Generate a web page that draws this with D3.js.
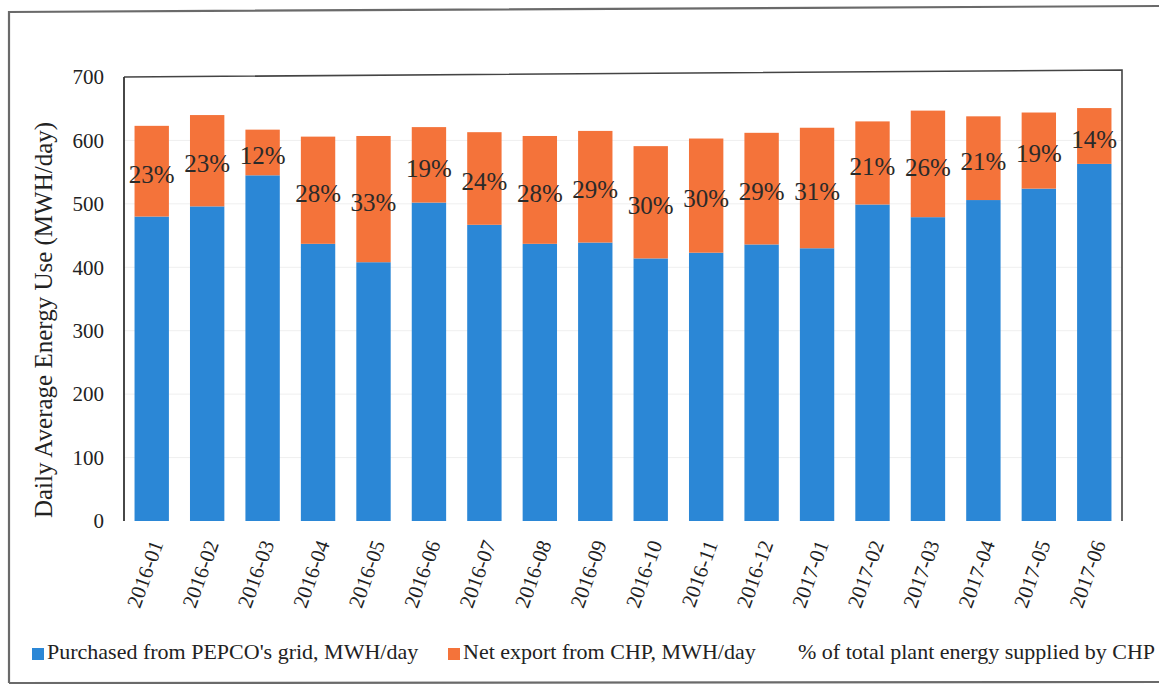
<!DOCTYPE html>
<html>
<head>
<meta charset="utf-8">
<script src="https://cdn.jsdelivr.net/npm/d3@7"></script>
<style>
  html, body { margin: 0; padding: 0; background: #fff; }
  svg { display: block; }
  svg text { font-family: "Liberation Serif", "Times New Roman", serif; }
</style>
</head>
<body>
<svg id="chart" width="1159" height="686"></svg>
<script>
// Monthly plant energy use, Jan 2016 – Jun 2017
const months = ["2016-01","2016-02","2016-03","2016-04","2016-05","2016-06",
                "2016-07","2016-08","2016-09","2016-10","2016-11","2016-12",
                "2017-01","2017-02","2017-03","2017-04","2017-05","2017-06"];
// Purchased from PEPCO's grid, MWH/day
const purchased = [480, 496, 545, 437, 408, 502, 467, 437, 439, 414, 423, 436, 430, 499, 479, 506, 524, 563];
// Net export from CHP, MWH/day
const netExport = [143, 144, 72, 169, 199, 119, 146, 170, 176, 177, 180, 176, 190, 131, 168, 132, 120, 88];
// % of total plant energy supplied by CHP
const chpShare = [23, 23, 12, 28, 33, 19, 24, 28, 29, 30, 30, 29, 31, 21, 26, 21, 19, 14];
const yTicks = [0, 100, 200, 300, 400, 500, 600, 700];

const seriesNames = ["Purchased from PEPCO's grid, MWH/day",
                     "Net export from CHP, MWH/day",
                     "% of total plant energy supplied by CHP"];
const colors = ["#2b87d6", "#f4733a", null];
const FONT = "'Liberation Serif', 'Times New Roman', serif";

const svg = d3.select("#chart");
const W = 1159, H = 686;
const plot = { left: 124, right: 1122, top: 77, bottom: 521 };

svg.append("rect").attr("width", W).attr("height", H).attr("fill", "#fff");

// outer frame
svg.append("path")
  .attr("d", `M9,683 L9,12 L${W},6 M9,683 L${W},682`)
  .attr("fill", "none").attr("stroke", "#6a6a6a").attr("stroke-width", 2.2);

const x = d3.scaleBand().domain(months).range([plot.left, plot.right])
  .paddingInner(0.38).paddingOuter(0.19);
const y = d3.scaleLinear().domain([0, 700]).range([plot.bottom, plot.top]);

// faint horizontal gridlines
svg.append("g").selectAll("line").data(yTicks.slice(1, -1)).join("line")
  .attr("x1", plot.left).attr("x2", plot.right)
  .attr("y1", d => y(d)).attr("y2", d => y(d))
  .attr("stroke", "#efefef").attr("stroke-width", 1);

// stacked bars
const rows = months.map((m, i) => ({ month: m, purchased: purchased[i], netExport: netExport[i], share: chpShare[i] }));
const stacked = d3.stack().keys(["purchased", "netExport"])(rows);

svg.append("g").selectAll("g").data(stacked).join("g")
  .attr("fill", (d, i) => colors[i])
  .selectAll("rect").data(d => d).join("rect")
  .attr("x", d => x(d.data.month))
  .attr("width", x.bandwidth())
  .attr("y", d => y(d[1]))
  .attr("height", d => y(d[0]) - y(d[1]));

// plot frame (top and right) and left axis line
svg.append("path")
  .attr("d", `M${plot.left},${plot.top} L${plot.right},${plot.top - 7} L${plot.right},${plot.bottom}`)
  .attr("fill", "none").attr("stroke", "#444").attr("stroke-width", 1.6);
svg.append("line")
  .attr("x1", plot.left).attr("x2", plot.left)
  .attr("y1", plot.top).attr("y2", plot.bottom)
  .attr("stroke", "#333").attr("stroke-width", 1.8);

// y axis labels
const yAxis = d3.axisLeft(y).tickValues(yTicks).tickSize(0).tickPadding(20);
const gy = svg.append("g").attr("transform", `translate(${plot.left},0)`).call(yAxis)
  .attr("font-family", FONT).attr("font-size", 21);
gy.select(".domain").remove();
gy.selectAll("text").attr("font-size", 21).attr("fill", "#222").style("font-family", FONT);

// x axis labels, rotated
const xAxis = d3.axisBottom(x).tickSize(0).tickPadding(0);
const gx = svg.append("g").attr("transform", `translate(0,${plot.bottom})`).call(xAxis)
  .attr("font-family", FONT).attr("font-size", 21);
gx.select(".domain").remove();
gx.selectAll("text")
  .attr("font-size", 21).attr("fill", "#222").style("font-family", FONT)
  .attr("text-anchor", "end")
  .attr("y", 0).attr("dy", "0.35em")
  .attr("transform", "translate(5,20) rotate(-70)");

// percentage labels centred in the CHP segment
const chpLayer = stacked[1];
svg.append("g").selectAll("text").data(chpLayer).join("text")
  .attr("x", d => x(d.data.month) + x.bandwidth() / 2)
  .attr("y", d => (y(d[0]) + y(d[1])) / 2 + 3)
  .attr("dy", "0.35em")
  .attr("text-anchor", "middle")
  .attr("font-size", 25).attr("fill", "#2a2a2a").style("font-family", FONT)
  .text(d => d.data.share + "%");

// y axis title
svg.append("text")
  .attr("transform", `translate(52,320) rotate(-90)`)
  .attr("text-anchor", "middle")
  .attr("font-size", 25).attr("fill", "#222").style("font-family", FONT)
  .text("Daily Average Energy Use (MWH/day)");

// legend
const legendX = [32, 448, 798];
const lg = svg.append("g").selectAll("g").data(seriesNames).join("g")
  .attr("transform", (d, i) => `translate(${legendX[i]},659)`);
lg.filter((d, i) => colors[i]).append("rect")
  .attr("x", 0).attr("y", -11).attr("width", 12).attr("height", 12)
  .attr("fill", (d, i) => colors[i]);
lg.append("text")
  .attr("x", (d, i) => colors[i] ? 15 : 0)
  .attr("y", 0)
  .attr("font-size", 22).attr("fill", "#222").style("font-family", FONT)
  .text(d => d);
</script>
</body>
</html>
